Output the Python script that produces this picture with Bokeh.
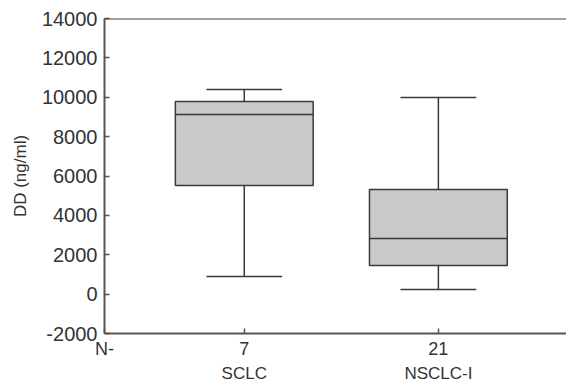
from bokeh.plotting import figure
from bokeh.models import Range1d, FixedTicker, LinearAxis, Span, Title
from bokeh.embed import file_html
from bokeh.resources import INLINE

groups = ["SCLC", "NSCLC-I"]
n_counts = ["7", "21"]
lower = [900, 230]
q1 = [5520, 1450]
median = [9130, 2830]
q3 = [9790, 5320]
upper = [10390, 9990]
y_ticks = [-2000, 0, 2000, 4000, 6000, 8000, 10000, 12000, 14000]

xs = [i + 1 for i in range(len(groups))]
x_start, x_end = 0.28, 2.66
box_w = 0.71
cap_w = 0.39

FONT = "Liberation Sans"
TXT = "#333333"
AX = "#555555"
LINE = "#3a3a3a"

p = figure(width=566, height=386, output_backend="svg", toolbar_location=None,
           x_range=Range1d(x_start, x_end), y_range=Range1d(-2000, 14000),
           min_border_left=104, min_border_right=0, min_border_top=18,
           min_border_bottom=53)
p.grid.visible = False
p.outline_line_color = None

# boxes
p.vbar(x=xs, width=box_w, bottom=q1, top=q3, fill_color="#c8c9cb",
       line_color=LINE, line_width=1.5)
# medians
p.segment(x0=[x - box_w / 2 for x in xs], y0=median,
          x1=[x + box_w / 2 for x in xs], y1=median,
          line_color=LINE, line_width=1.5)
# whiskers
p.segment(x0=xs, y0=q3, x1=xs, y1=upper, line_color=LINE, line_width=1.5)
p.segment(x0=xs, y0=q1, x1=xs, y1=lower, line_color=LINE, line_width=1.5)
# caps
p.segment(x0=[x - cap_w / 2 for x in xs], y0=upper,
          x1=[x + cap_w / 2 for x in xs], y1=upper, line_color=LINE, line_width=1.5)
p.segment(x0=[x - cap_w / 2 for x in xs], y0=lower,
          x1=[x + cap_w / 2 for x in xs], y1=lower, line_color=LINE, line_width=1.5)

# top border line
p.add_layout(Span(location=14000, dimension="width", line_color="#444444", line_width=2))

# y axis
ya = p.yaxis[0]
ya.ticker = FixedTicker(ticks=y_ticks)
ya.major_label_overrides = {t: str(t) for t in y_ticks}
ya.major_tick_in = 5
ya.major_tick_out = 0
ya.minor_tick_line_color = None
ya.major_label_standoff = 7
ya.major_label_text_font = FONT
ya.major_label_text_font_size = "20px"
ya.major_label_text_color = TXT
ya.axis_line_color = AX
ya.axis_line_width = 2
ya.major_tick_line_color = AX
ya.major_tick_line_width = 1.5

# x axis: counts
xa = p.xaxis[0]
xa.ticker = FixedTicker(ticks=[x_start] + xs)
overrides = {x_start: "N-"}
for x, n in zip(xs, n_counts):
    overrides[x] = n
xa.major_label_overrides = overrides
xa.major_tick_in = 5
xa.major_tick_out = 0
xa.minor_tick_line_color = None
xa.major_label_standoff = 5
xa.major_label_text_font = FONT
xa.major_label_text_font_size = "18px"
xa.major_label_text_color = TXT
xa.axis_line_color = AX
xa.axis_line_width = 2
xa.major_tick_line_color = AX
xa.major_tick_line_width = 1.5

# x axis: group names
xa2 = LinearAxis(ticker=FixedTicker(ticks=xs),
                 major_label_overrides={x: g for x, g in zip(xs, groups)})
xa2.axis_line_color = None
xa2.major_tick_line_color = None
xa2.minor_tick_line_color = None
xa2.major_label_standoff = -4
xa2.major_label_text_font = FONT
xa2.major_label_text_font_size = "17px"
xa2.major_label_text_color = TXT
p.add_layout(xa2, "below")

# y label
p.add_layout(Title(text="DD (ng/ml)", align="center", offset=34, standoff=17,
                   text_font=FONT, text_font_size="17px", text_font_style="normal",
                   text_color=TXT), "left")

open("out.html", "w").write(file_html(p, INLINE))
